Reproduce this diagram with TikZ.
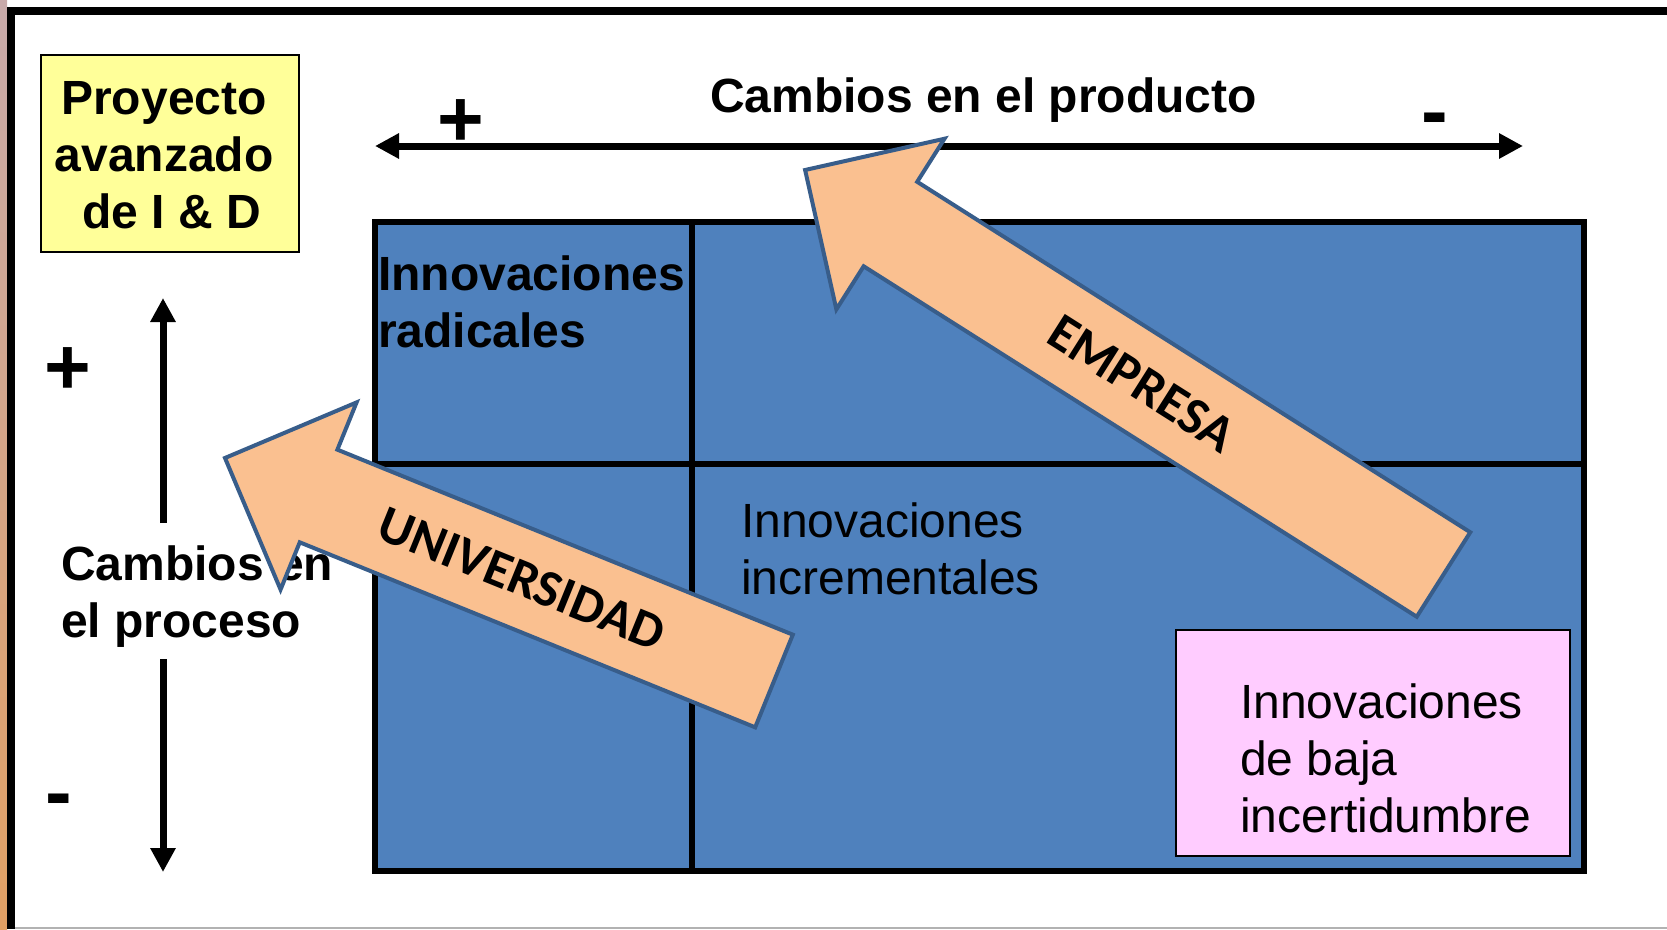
\documentclass[tikz,border=0pt]{standalone}
\usepackage{fontspec}
\setmainfont{Liberation Sans}
\newfontfamily\calib{Carlito}
\usetikzlibrary{arrows.meta}
\definecolor{gridblue}{HTML}{4F81BD}
\definecolor{peach}{HTML}{FAC090}
\definecolor{arrline}{HTML}{385D8A}
\definecolor{pinkbox}{HTML}{FFCCFF}
\definecolor{yellowbox}{HTML}{FFFF99}
\begin{document}
\begin{tikzpicture}[x=1pt,y=-1pt,
  txt/.style={inner sep=0pt, outer sep=0pt},
  boldtxt/.style={txt, font=\bfseries\fontsize{48}{57}\selectfont},
  regtxt/.style={txt, font=\fontsize{48}{57}\selectfont},
  sign/.style={txt, font=\bfseries\fontsize{80}{80}\selectfont, anchor=base},
  axisarrow/.style={line width=7pt, -{Triangle[length=24pt,width=24pt]}},
  gridline/.style={line width=6pt},
  bigarrow/.style={fill=peach, draw=arrline, line width=4pt, line join=miter},
  arrtxt/.style={txt, font=\calib\bfseries\fontsize{52.5}{52.5}\selectfont},
  box/.style={draw, inner sep=0pt, outer sep=0pt, anchor=north west},
]
\useasboundingbox (0,0) rectangle (1667,929);
\fill[white] (0,0) rectangle (1667,929);
% background strip on the left
\shade[top color={rgb,255:red,200;green,170;blue,170}, middle color={rgb,255:red,150;green,190;blue,205}, bottom color={rgb,255:red,225;green,160;blue,100}] (0,0) rectangle (7,929);
% frame
\coordinate (fbl) at (11,929);
\coordinate (ftl) at (11,10.5);
\coordinate (ftr) at (1667,10.5);
\draw[line width=8pt, line join=miter] (fbl) -- (ftl) -- (ftr);
\coordinate (gbl) at (15,928);
\coordinate (gbr) at (1667,928);
\draw[black!30, line width=1.5pt] (gbl) -- (gbr);

% yellow box
\node[box, fill=yellowbox, line width=1.5pt, minimum width=258, minimum height=197] (rd) at (41,55) {};
\node[boldtxt, align=center, anchor=base] (rdt) at (164,228) {Proyecto\\avanzado\\\hspace*{15pt}de I \& D};

% product axis
\node[boldtxt, anchor=base west] (prodt) at (710,112) {Cambios en el producto};
\coordinate (pc) at (949,146);
\coordinate (pl) at (375,146);
\coordinate (pr) at (1523,146);
\draw[axisarrow] (pc) -- (pl);
\draw[axisarrow] (pc) -- (pr);
\node[sign] (pplus) at (461,146) {+};
\node[sign] (pminus) at (1434.5,138) {-};

% process axis
\coordinate (va) at (163,523);
\coordinate (vt) at (163,298);
\coordinate (vb) at (163,659);
\coordinate (vbt) at (163,872);
\draw[axisarrow] (va) -- (vt);
\draw[axisarrow] (vb) -- (vbt);
\node[sign] (vplus) at (67.5,394) {+};
\node[sign] (vminus) at (58.5,819) {-};

% grid
\node[box, fill=gridblue, line width=6pt, minimum width=1209, minimum height=649] (grid) at (375,222) {};
\coordinate (gvt) at (692,222);
\coordinate (gvb) at (692,871);
\coordinate (ghl) at (375,463.5);
\coordinate (ghr) at (1584,463.5);
\draw[gridline] (gvt) -- (gvb);
\draw[gridline] (ghl) -- (ghr);
\node[boldtxt, align=left, anchor=base west] (radt) at (378,347) {Innovaciones\\radicales};
\node[regtxt, align=left, anchor=base west] (inct) at (741,594) {Innovaciones\\incrementales};

% pink box
\node[box, fill=pinkbox, line width=2pt, minimum width=394, minimum height=226] (pk) at (1176,630) {};
\node[regtxt, align=left, anchor=base west] (pkt) at (1240,832) {Innovaciones\\de baja\\incertidumbre};

% process label
\node[boldtxt, align=left, anchor=base west] (proct) at (61,637) {Cambios en\\el proceso};

% EMPRESA arrow
\begin{scope}[shift={(1443.5,574.5)}, rotate=147.64]
  \draw[bigarrow] (0,-50) -- (654.8,-50) -- (654.8,-101) -- (755.8,0) -- (654.8,101) -- (654.8,50) -- (0,50) -- cycle;
  \node[arrtxt, rotate=-32.36] (empresa) at (357,0) {EMPRESA};
\end{scope}

% UNIVERSIDAD arrow
\begin{scope}[shift={(774,681)}, rotate=157.89]
  \draw[bigarrow] (0,-50) -- (491.6,-50) -- (491.6,-101) -- (592.6,0) -- (491.6,101) -- (491.6,50) -- (0,50) -- cycle;
  \node[arrtxt, rotate=-22.11] (univ) at (272,0) {UNIVERSIDAD};
\end{scope}
\end{tikzpicture}
\end{document}
